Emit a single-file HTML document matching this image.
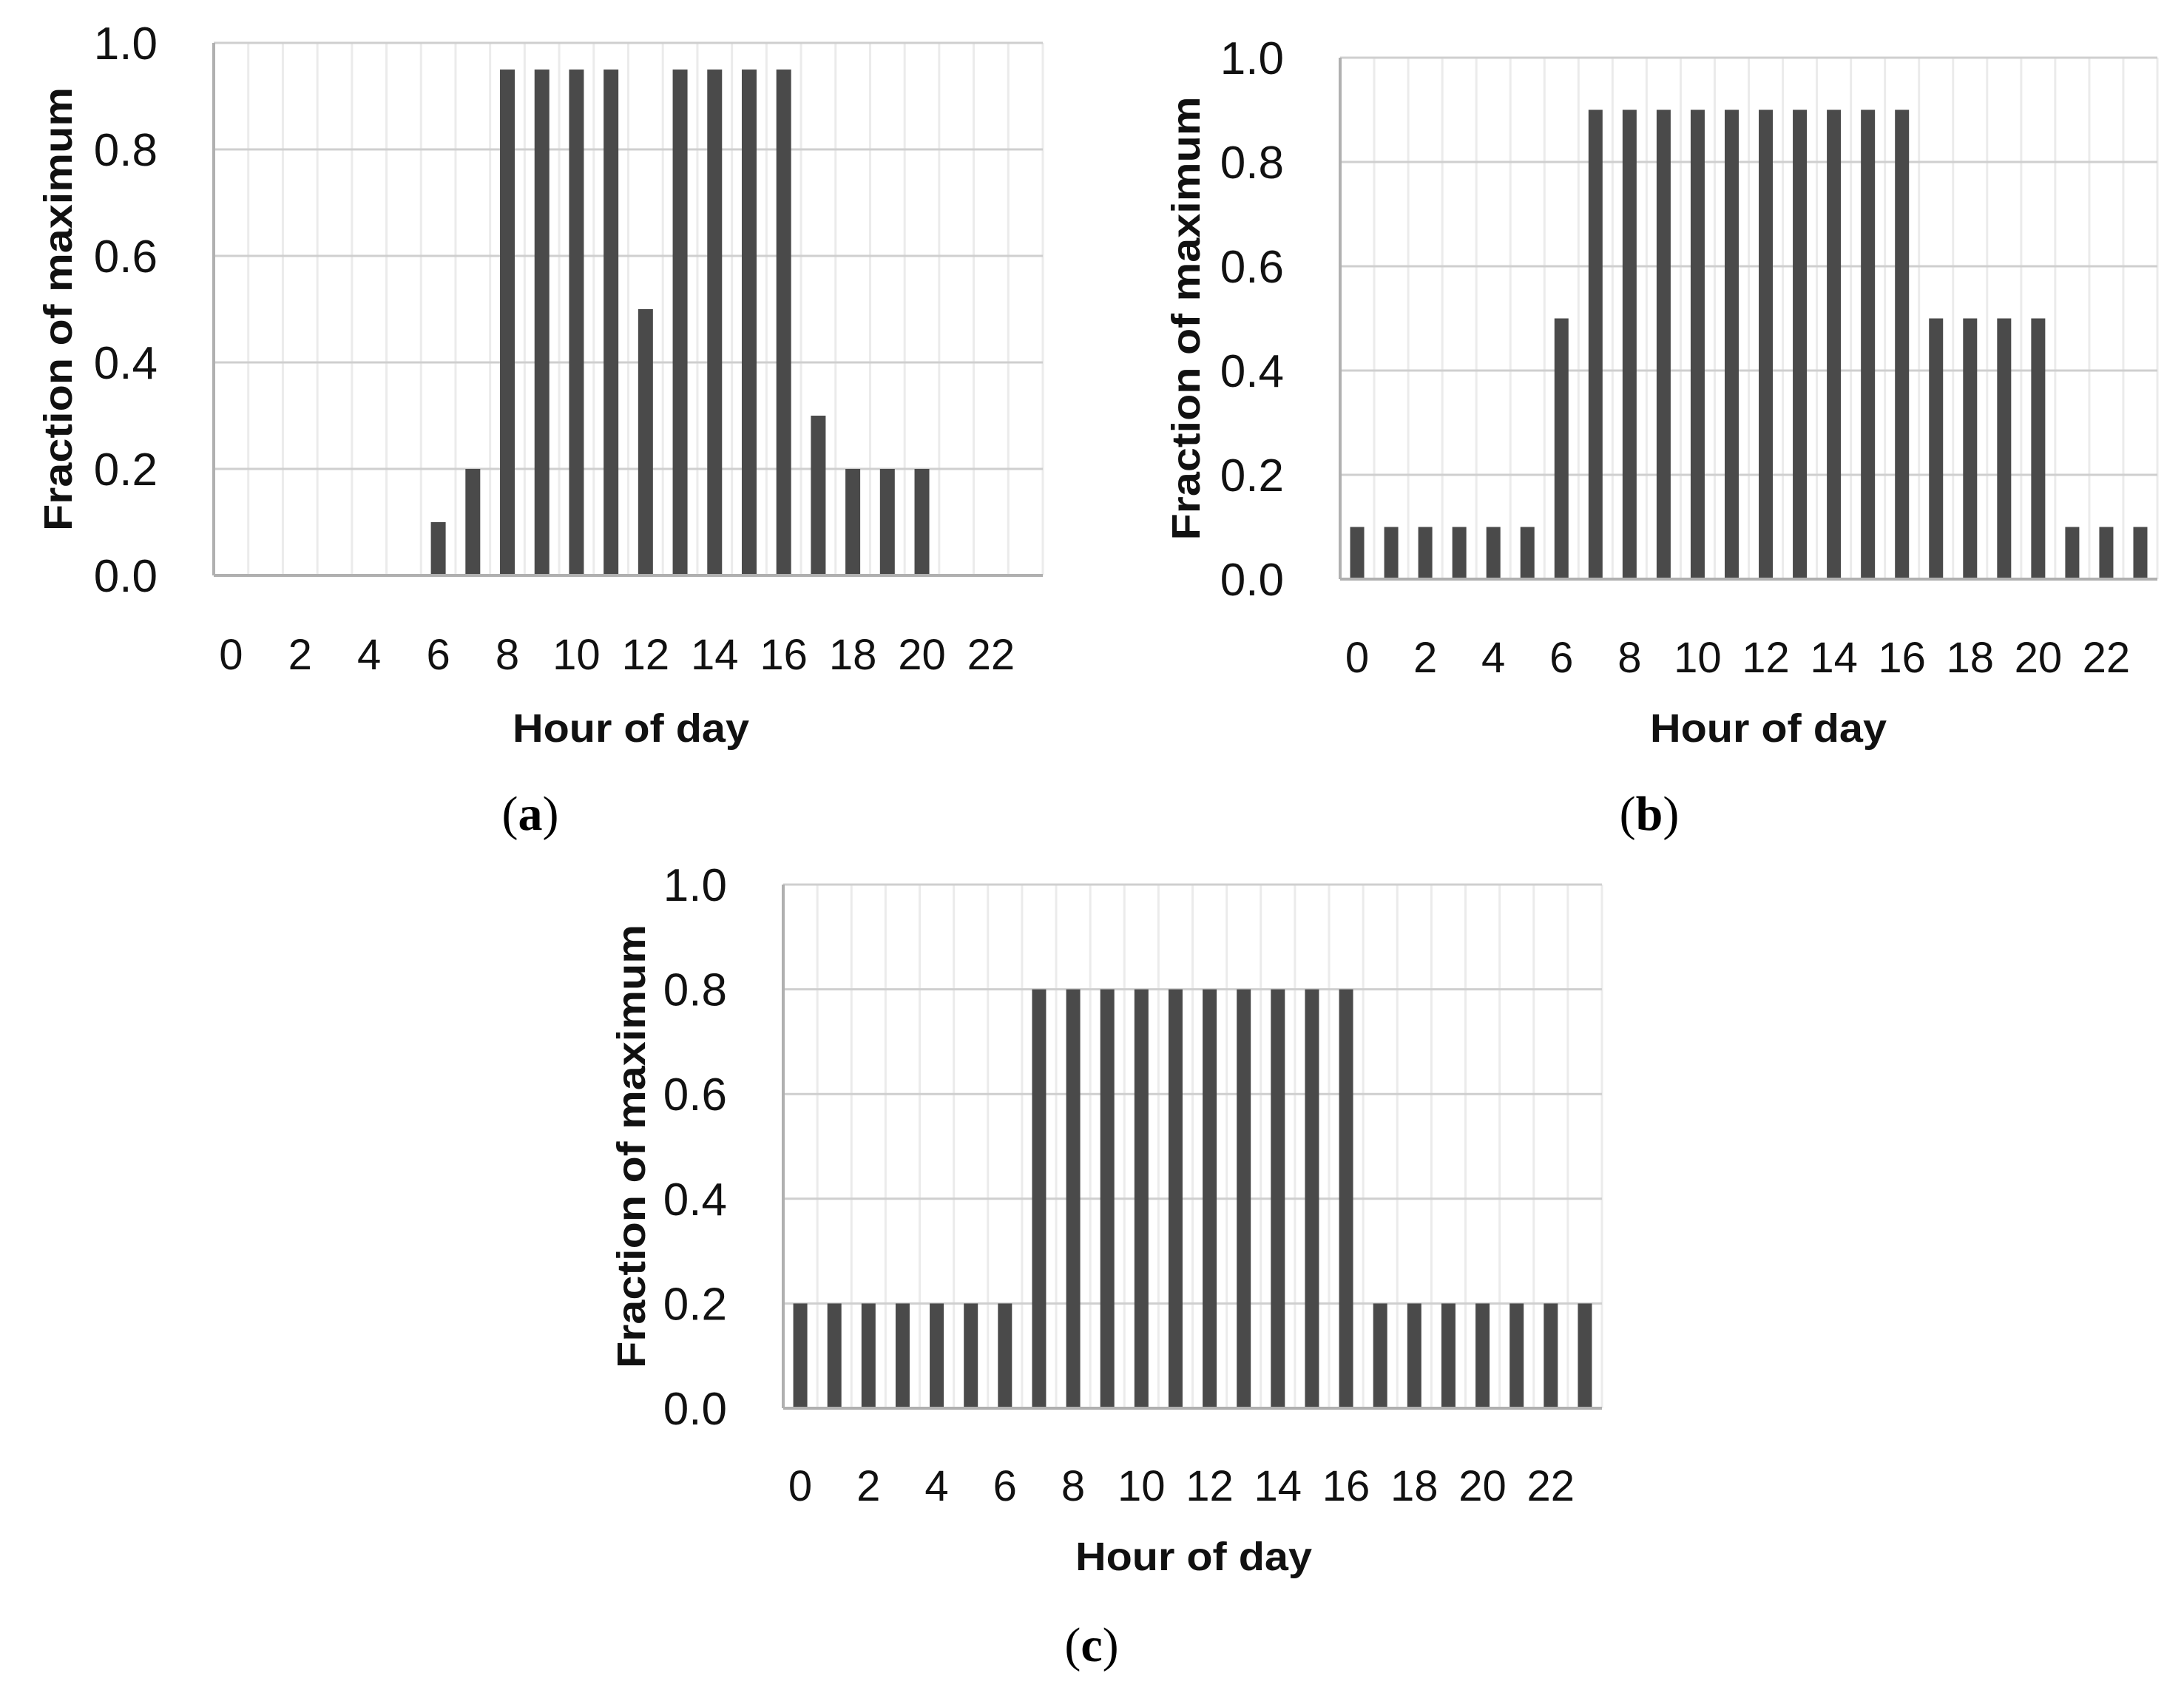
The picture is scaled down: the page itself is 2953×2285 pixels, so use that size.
<!DOCTYPE html>
<html><head><meta charset="utf-8"><style>
html,body{margin:0;padding:0;background:#fff;}
svg{display:block;}
</style></head><body>
<svg id="fig" width="2953" height="2285" viewBox="0 0 2953 2285" xmlns="http://www.w3.org/2000/svg"></svg>
<script>
const hours = [0,1,2,3,4,5,6,7,8,9,10,11,12,13,14,15,16,17,18,19,20,21,22,23];
const yTicks = [0,0.2,0.4,0.6,0.8,1.0];
const yTickLabels = ["0.0","0.2","0.4","0.6","0.8","1.0"];
const xTickLabels = ["0","2","4","6","8","10","12","14","16","18","20","22"];
const valuesA = [0,0,0,0,0,0,0.1,0.2,0.95,0.95,0.95,0.95,0.5,0.95,0.95,0.95,0.95,0.3,0.2,0.2,0.2,0,0,0];
const valuesB = [0.1,0.1,0.1,0.1,0.1,0.1,0.5,0.9,0.9,0.9,0.9,0.9,0.9,0.9,0.9,0.9,0.9,0.5,0.5,0.5,0.5,0.1,0.1,0.1];
const valuesC = [0.2,0.2,0.2,0.2,0.2,0.2,0.2,0.8,0.8,0.8,0.8,0.8,0.8,0.8,0.8,0.8,0.8,0.2,0.2,0.2,0.2,0.2,0.2,0.2];

const NS = "http://www.w3.org/2000/svg";
const svg = document.getElementById('fig');
function mk(tag, attrs, parent){
  const e = document.createElementNS(NS, tag);
  for (const k in attrs) e.setAttribute(k, attrs[k]);
  parent.appendChild(e);
  return e;
}
const panels = [
  {id:'a', vals:valuesA, L:289, R:1410, T:58, B:778, bw:20, tickY:905, titleX:853, titleY:1003, yTitleX:78, cap:'a', capX:717, capY:1122},
  {id:'b', vals:valuesB, L:1812, R:2917, T:78, B:783, bw:19, tickY:909, titleX:2391, titleY:1003, yTitleX:1603, cap:'b', capX:2230, capY:1122},
  {id:'c', vals:valuesC, L:1059, R:2166, T:1196, B:1904, bw:19, tickY:2029, titleX:1614, titleY:2123, yTitleX:853, cap:'c', capX:1476, capY:2246}
];
panels.forEach(p=>{
  const g = mk('g',{},svg);
  
  
  const n = hours.length;
  const cw = (p.R-p.L)/n;
  const xPos = i => p.L + i*cw;
  const yPos = v => p.B - v*(p.B-p.T);
  for (let i=1;i<=n;i++){
    const l = mk('line',{x1:xPos(i),x2:xPos(i),y1:p.T,y2:p.B,stroke:'#ebebeb','stroke-width':3},g);
    
    
  }
  yTicks.forEach((t,i)=>{
    if (t>0){
      const l = mk('line',{x1:p.L,x2:p.R,y1:yPos(t),y2:yPos(t),stroke:'#cfcfcf','stroke-width':3},g);
      
      
    }
    const tx = mk('text',{x:p.L-76,y:yPos(t)+22,'text-anchor':'end','font-family':'Liberation Sans, sans-serif','font-size':62,fill:'#111'},g);
    tx.textContent = yTickLabels[i];
    
    
  });
  p.vals.forEach((v,i)=>{
    if (v<=0) return;
    const cx = xPos(i)+cw/2;
    const r = mk('rect',{x:cx-p.bw/2,y:yPos(v),width:p.bw,height:p.B-yPos(v),fill:'#4a4a4a'},g);
    
    
  });
  const ya = mk('line',{x1:p.L,x2:p.L,y1:p.T,y2:p.B,stroke:'#b0b0b0','stroke-width':4},g);
  
  
  const xa = mk('line',{x1:p.L,x2:p.R,y1:p.B,y2:p.B,stroke:'#b0b0b0','stroke-width':4},g);
  
  
  xTickLabels.forEach((lab,j)=>{
    const i = j*2;
    const tx = mk('text',{x:xPos(i)+cw/2,y:p.tickY,'text-anchor':'middle','font-family':'Liberation Sans, sans-serif','font-size':58,fill:'#111'},g);
    tx.textContent = lab;
    
    
  });
  const xt = mk('text',{x:p.titleX,y:p.titleY,'text-anchor':'middle','font-family':'Liberation Sans, sans-serif','font-size':54,'font-weight':'bold',fill:'#111',textLength:320,lengthAdjust:'spacingAndGlyphs'},g);
  xt.textContent = 'Hour of day';
  
  
  const cy = (p.T+p.B)/2;
  const yt = mk('text',{x:0,y:0,transform:`translate(${p.yTitleX+19},${cy}) rotate(-90)`,'text-anchor':'middle','font-family':'Liberation Sans, sans-serif','font-size':54,'font-weight':'bold',fill:'#111',textLength:600,lengthAdjust:'spacingAndGlyphs'},g);
  yt.textContent = 'Fraction of maximum';
  
  
  const c = mk('text',{x:p.capX,y:p.capY,'text-anchor':'middle','font-family':'Liberation Serif, serif','font-size':66,fill:'#000'},g);
  c.innerHTML = '(<tspan font-weight="bold">'+p.cap+'</tspan>)';
  
  
});
</script>
</body></html>
